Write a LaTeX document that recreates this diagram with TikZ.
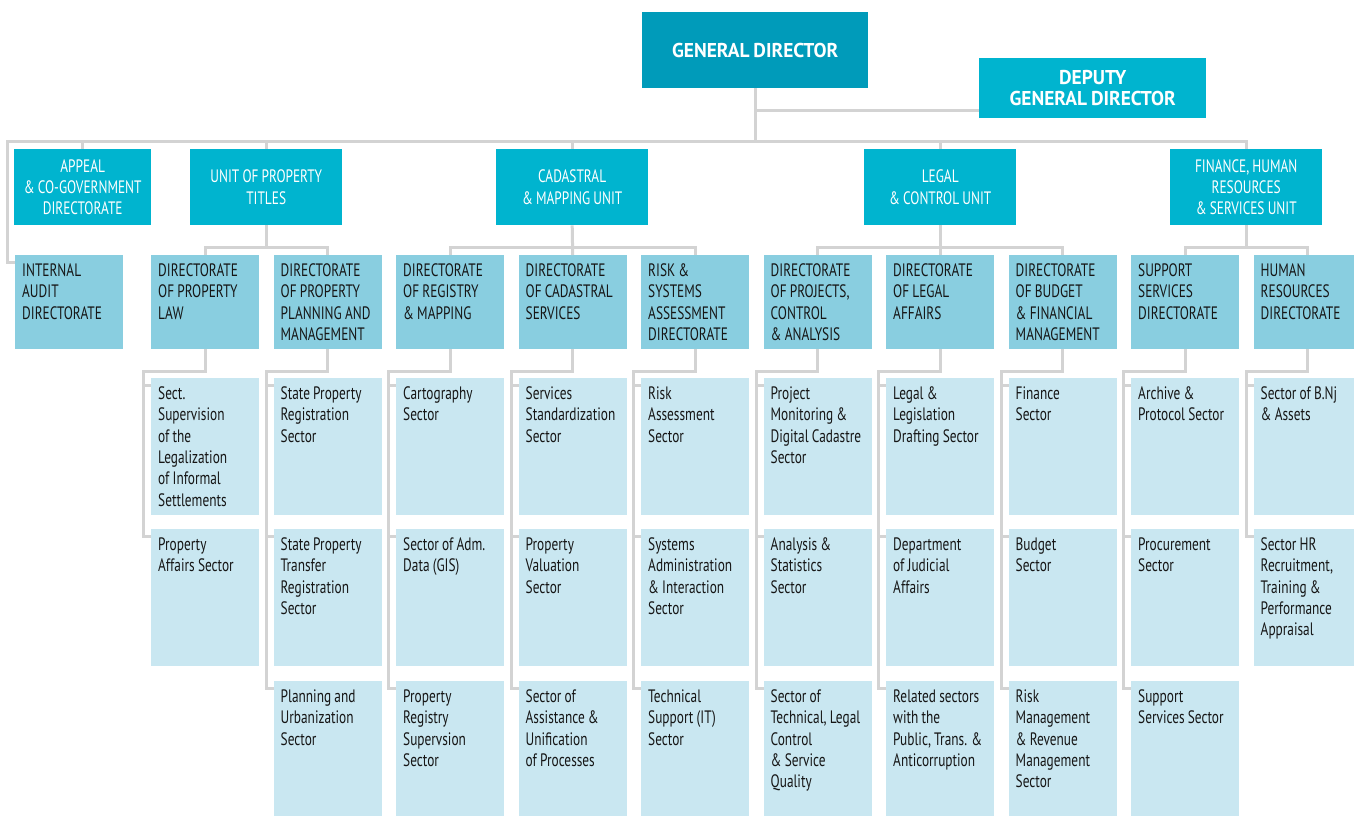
\documentclass[tikz,border=0pt]{standalone}
\usepackage{fontspec}
\setmainfont{PT Sans}[FakeStretch=0.74, WordSpace=0.9]
\newfontfamily\gdfont{PT Sans}[FakeStretch=0.97, WordSpace=0.8]
\definecolor{gdblue}{HTML}{009BBA}
\definecolor{unitblue}{HTML}{00B4CF}
\definecolor{dirblue}{HTML}{89CEE0}
\definecolor{secblue}{HTML}{C9E7F1}
\definecolor{linegrey}{HTML}{D3D3D3}
\definecolor{txtdark}{HTML}{161616}

% box with its text set top left
\newcommand{\orgbox}[5]{%
  \node[#1] (#2) at (#3,#4) {};
  \node[boxtxt] (#2-t) at ([shift={(7pt,-21.5pt)}]#2.north west) {#5};}

\begin{document}
\begin{tikzpicture}[x=1pt, y=-1pt,
  link/.style={draw=linegrey, line width=3pt},
  gdbox/.style={fill=gdblue, text=white, anchor=north west, inner sep=0pt, align=center,
    font=\gdfont\bfseries\fontsize{20}{21.3}\selectfont},
  unitbox/.style={fill=unitblue, text=white, anchor=north west, inner sep=0pt, align=center,
    minimum width=152pt, minimum height=76pt, font=\fontsize{18}{21.3}\selectfont},
  dirbox/.style={fill=dirblue, anchor=north west, inner sep=0pt, minimum width=108pt, minimum height=94pt},
  secbox/.style={fill=secblue, anchor=north west, inner sep=0pt, minimum width=108pt, minimum height=137pt},
  boxtxt/.style={anchor=base west, inner sep=0pt, text width=112pt, align=flush left, text=txtdark,
    font=\fontsize{18}{21.3}\selectfont}]
\clip (0,0) rectangle (1354,815);

% top
\node[gdbox, minimum width=226pt, minimum height=76pt] (gd) at (642,12) {GENERAL DIRECTOR};
\node[gdbox, fill=unitblue, minimum width=227pt, minimum height=60pt] (dgd) at (979,58) {DEPUTY\\GENERAL DIRECTOR};

% units
\node[unitbox, minimum width=137pt] (app) at (14,149) {APPEAL\\\& CO-GOVERNMENT\\DIRECTORATE};
\node[unitbox] (upt) at (190,149) {UNIT OF PROPERTY\\TITLES};
\node[unitbox] (cad) at (496,149) {CADASTRAL\\\& MAPPING UNIT};
\node[unitbox] (leg) at (864,149) {LEGAL\\\& CONTROL UNIT};
\node[unitbox] (fin) at (1170,149) {FINANCE, HUMAN\\RESOURCES\\\& SERVICES UNIT};

% directorates
\orgbox{dirbox}{ia}{15}{255}{INTERNAL\\AUDIT\\DIRECTORATE}
\orgbox{dirbox}{d0}{151}{255}{DIRECTORATE\\OF PROPERTY\\LAW}
\orgbox{dirbox}{d1}{273.5}{255}{DIRECTORATE\\OF PROPERTY\\PLANNING AND\\MANAGEMENT}
\orgbox{dirbox}{d2}{396}{255}{DIRECTORATE\\OF REGISTRY\\\& MAPPING}
\orgbox{dirbox}{d3}{518.5}{255}{DIRECTORATE\\OF CADASTRAL\\SERVICES}
\orgbox{dirbox}{d4}{641}{255}{RISK \&\\SYSTEMS\\ASSESSMENT\\DIRECTORATE}
\orgbox{dirbox}{d5}{763.5}{255}{DIRECTORATE\\OF PROJECTS,\\CONTROL\\\& ANALYSIS}
\orgbox{dirbox}{d6}{886}{255}{DIRECTORATE\\OF LEGAL\\AFFAIRS}
\orgbox{dirbox}{d7}{1008.5}{255}{DIRECTORATE\\OF BUDGET\\\& FINANCIAL\\MANAGEMENT}
\orgbox{dirbox}{d8}{1131}{255}{SUPPORT\\SERVICES\\DIRECTORATE}
\orgbox{dirbox}{d9}{1253.5}{255}{HUMAN\\RESOURCES\\DIRECTORATE}

% sectors
\orgbox{secbox}{s0-1}{151}{378}{Sect.\\Supervision\\of the\\Legalization\\of Informal\\Settlements}
\orgbox{secbox}{s0-2}{151}{529}{Property\\Affairs Sector}
\orgbox{secbox}{s1-1}{273.5}{378}{State Property\\Registration\\Sector}
\orgbox{secbox}{s1-2}{273.5}{529}{State Property\\Transfer\\Registration\\Sector}
\orgbox{secbox}{s1-3}{273.5}{681}{Planning and\\Urbanization\\Sector}
\orgbox{secbox}{s2-1}{396}{378}{Cartography\\Sector}
\orgbox{secbox}{s2-2}{396}{529}{Sector of Adm.\\Data (GIS)}
\orgbox{secbox}{s2-3}{396}{681}{Property\\Registry\\Supervsion\\Sector}
\orgbox{secbox}{s3-1}{518.5}{378}{Services\\Standardization\\Sector}
\orgbox{secbox}{s3-2}{518.5}{529}{Property\\Valuation\\Sector}
\orgbox{secbox}{s3-3}{518.5}{681}{Sector of\\Assistance \&\\Unification\\of Processes}
\orgbox{secbox}{s4-1}{641}{378}{Risk\\Assessment\\Sector}
\orgbox{secbox}{s4-2}{641}{529}{Systems\\Administration\\\& Interaction\\Sector}
\orgbox{secbox}{s4-3}{641}{681}{Technical\\Support (IT)\\Sector}
\orgbox{secbox}{s5-1}{763.5}{378}{Project\\Monitoring \&\\Digital Cadastre\\Sector}
\orgbox{secbox}{s5-2}{763.5}{529}{Analysis \&\\Statistics\\Sector}
\orgbox{secbox}{s5-3}{763.5}{681}{Sector of\\Technical, Legal\\Control\\\& Service\\Quality}
\orgbox{secbox}{s6-1}{886}{378}{Legal \&\\Legislation\\Drafting Sector}
\orgbox{secbox}{s6-2}{886}{529}{Department\\of Judicial\\Affairs}
\orgbox{secbox}{s6-3}{886}{681}{Related sectors\\with the\\Public, Trans. \&\\Anticorruption}
\orgbox{secbox}{s7-1}{1008.5}{378}{Finance\\Sector}
\orgbox{secbox}{s7-2}{1008.5}{529}{Budget\\Sector}
\orgbox{secbox}{s7-3}{1008.5}{681}{Risk\\Management\\\& Revenue\\Management\\Sector}
\orgbox{secbox}{s8-1}{1131}{378}{Archive \&\\Protocol Sector}
\orgbox{secbox}{s8-2}{1131}{529}{Procurement\\Sector}
\orgbox{secbox}{s8-3}{1131}{681}{Support\\Services Sector}
\orgbox{secbox}{s9-1}{1253.5}{378}{Sector of B.Nj\\\& Assets}
\orgbox{secbox}{s9-2}{1253.5}{529}{Sector HR\\Recruitment,\\Training \&\\Performance\\Appraisal}

% connectors
\coordinate (busL) at (7,141);
\draw[link] (gd.south) -- (gd.south |- busL);
\draw[link] ([yshift=8pt]dgd.south west) -| (gd.south);
\draw[link] (fin.north) |- (busL) |- ([yshift=-7pt]ia.north west);
\foreach \u in {app,upt,cad,leg}
  \draw[link] (\u.north) -- (\u.north |- busL);
\draw[link] (upt.south) -- ++(0,22);
\draw[link] (d0.north) -- ++(0,-8) -| (d1.north);
\draw[link] (cad.south) -- (d3.north);
\draw[link] (d2.north) -- ++(0,-8) -| (d4.north);
\draw[link] (leg.south) -- (d6.north);
\draw[link] (d5.north) -- ++(0,-8) -| (d7.north);
\draw[link] (fin.south) -- ++(0,22);
\draw[link] (d8.north) -- ++(0,-8) -| (d9.north);
\foreach \d/\n in {0/2,1/3,2/3,3/3,4/3,5/3,6/3,7/3,8/3,9/2} {
  \draw[link] (d\d.south) -- ++(0,22) -| ([shift={(-7.5pt,-7pt)}]s\d-\n.north west)
    -- ([yshift=-7pt]s\d-\n.north west);
  \foreach \r in {1,...,\n}
    \draw[link] ([shift={(-7.5pt,-7pt)}]s\d-\r.north west) -- ([yshift=-7pt]s\d-\r.north west);
}
\end{tikzpicture}
\end{document}
